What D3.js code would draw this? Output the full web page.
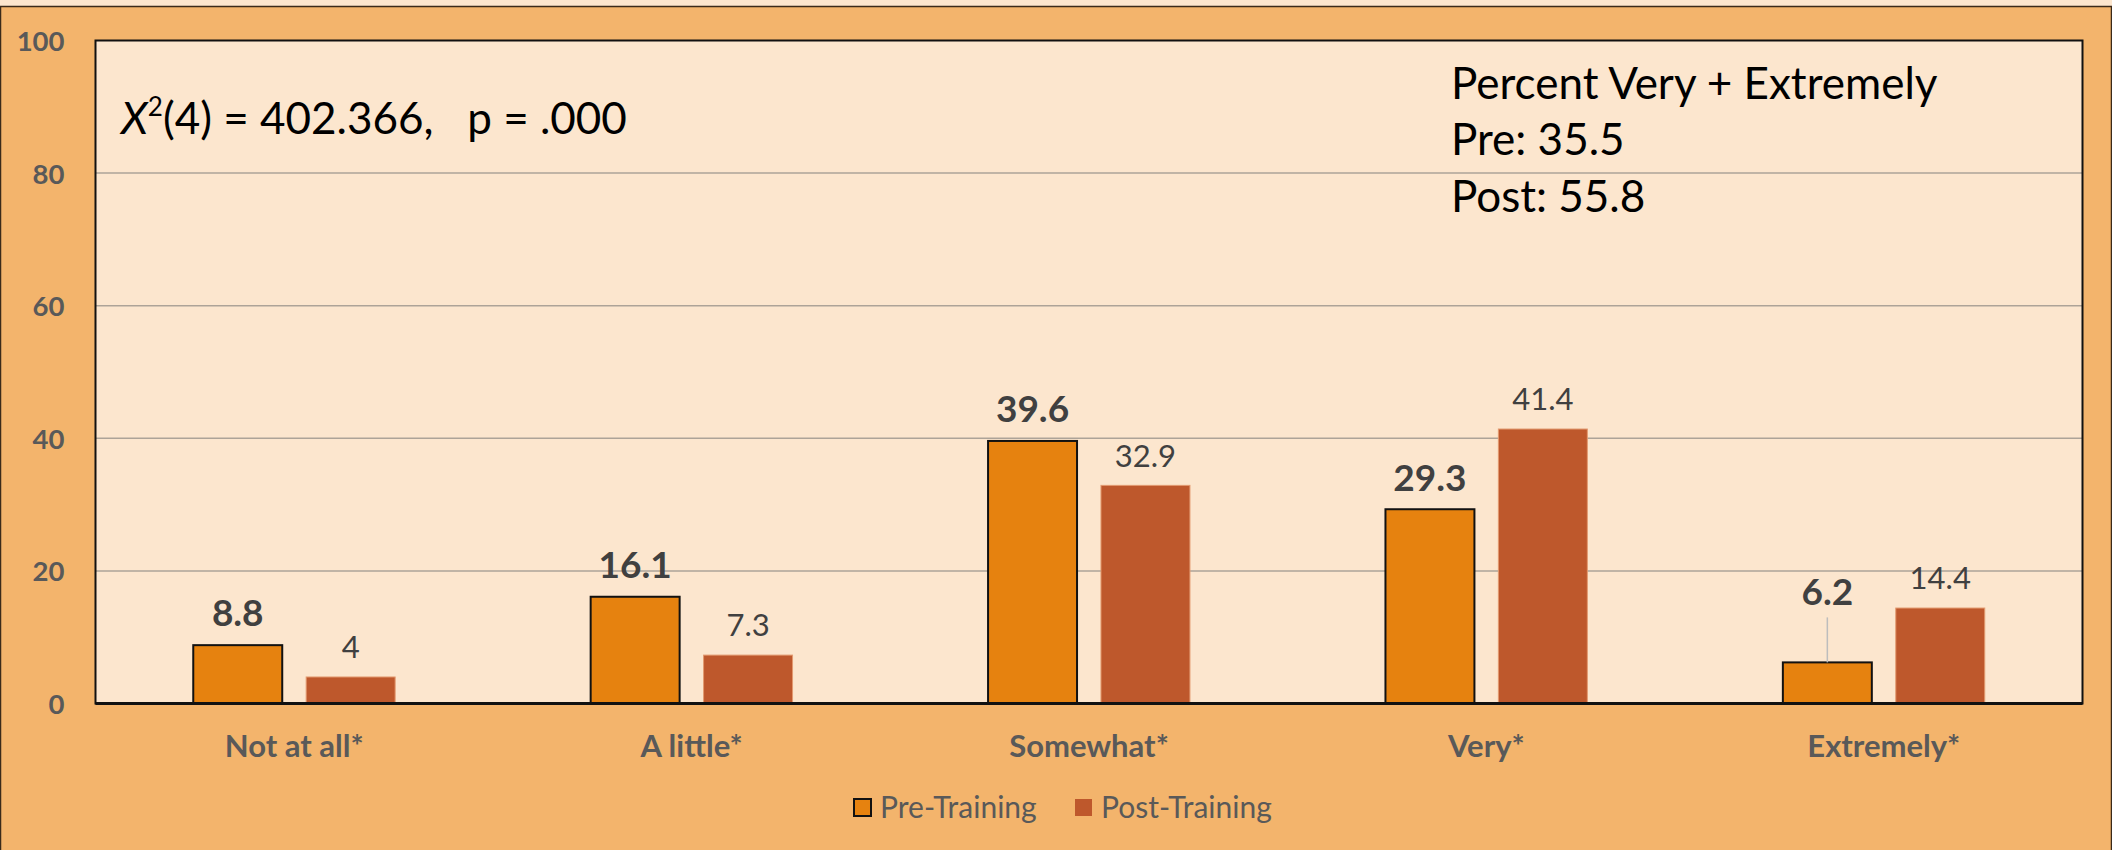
<!DOCTYPE html>
<html>
<head>
<meta charset="utf-8">
<script src="https://cdn.jsdelivr.net/npm/d3@7/dist/d3.min.js"></script>
<style>
  html, body { margin: 0; padding: 0; background: #FCE6CE; }
  svg { display: block; }
  text { font-family: Lato, "Open Sans", sans-serif; }
</style>
</head>
<body>
<svg id="chart" width="2112" height="850"></svg>
<script>
// ---- data ----
const categories = ["Not at all*", "A little*", "Somewhat*", "Very*", "Extremely*"];
const seriesNames = ["Pre-Training", "Post-Training"];
const preValues = [8.8, 16.1, 39.6, 29.3, 6.2];
const postValues = [4, 7.3, 32.9, 41.4, 14.4];
const yTicks = [0, 20, 40, 60, 80, 100];
const statText = "402.366";
const statP = ".000";
const summaryTitle = "Percent Very + Extremely";
const summaryPre = "35.5";
const summaryPost = "55.8";

// ---- layout ----
const W = 2112, H = 850;
const plot = { left: 95.5, right: 2082.5, top: 40.5, bottom: 703.5 };
const colors = { outer: "#F3B46C", plotBg: "#FCE6CE", pre: "#E6820F", post: "#BE582C",
                 grid: "#ADA398", axisText: "#595959", labelText: "#404040" };

const svg = d3.select("#chart");

// outer chart area
svg.append("rect").attr("x", 0).attr("y", 0).attr("width", W).attr("height", H).attr("fill", colors.plotBg);
svg.append("rect").attr("x", 0.5).attr("y", 6.5).attr("width", W - 1).attr("height", H + 10)
   .attr("fill", colors.outer).attr("stroke", "#3a2a1a").attr("stroke-width", 1.5);

// plot area
svg.append("rect").attr("x", plot.left).attr("y", plot.top)
   .attr("width", plot.right - plot.left).attr("height", plot.bottom - plot.top)
   .attr("fill", colors.plotBg);

const x0 = d3.scaleBand().domain(categories).range([plot.left, plot.right])
   .paddingInner(0.492).paddingOuter(0.246);
const x1 = d3.scaleBand().domain(seriesNames).range([0, x0.bandwidth()]).paddingInner(0.212);
const y = d3.scaleLinear().domain([0, 100]).range([plot.bottom, plot.top]);

// gridlines
svg.append("g").selectAll("line").data(yTicks.filter(t => t > 0 && t < 100)).join("line")
   .attr("x1", plot.left).attr("x2", plot.right)
   .attr("y1", d => y(d)).attr("y2", d => y(d))
   .attr("stroke", colors.grid).attr("stroke-width", 1.5);

// y axis labels
const yAxis = svg.append("g").attr("transform", `translate(${plot.left - 31},0)`)
   .call(d3.axisLeft(y).tickValues(yTicks).tickSize(0).tickPadding(0).tickFormat(d3.format("d")));
yAxis.select(".domain").remove();
yAxis.selectAll("text").attr("fill", colors.axisText).attr("font-size", 27.5)
   .attr("font-weight", "bold").attr("font-family", "Lato, sans-serif").attr("dy", "0.36em");

// bars
const seriesData = [preValues, postValues];
const groups = svg.append("g");
seriesData.forEach((vals, si) => {
  groups.append("g").selectAll("rect").data(vals).join("rect")
    .attr("x", (d, i) => x0(categories[i]) + x1(seriesNames[si]))
    .attr("y", d => y(d))
    .attr("width", x1.bandwidth())
    .attr("height", d => y(0) - y(d))
    .attr("fill", si === 0 ? colors.pre : colors.post)
    .attr("stroke", si === 0 ? "#111" : "#E39A70")
    .attr("stroke-width", si === 0 ? 2 : 1);
});

// plot border
svg.append("rect").attr("x", plot.left).attr("y", plot.top)
   .attr("width", plot.right - plot.left).attr("height", plot.bottom - plot.top)
   .attr("fill", "none").attr("stroke", "#111").attr("stroke-width", 2);
svg.append("line").attr("x1", plot.left).attr("x2", plot.right)
   .attr("y1", y(0)).attr("y2", y(0)).attr("stroke", "#111").attr("stroke-width", 3);

// data labels
const draggedExtra = { series: 0, index: 4, extra: 39 };
seriesData.forEach((vals, si) => {
  const g = svg.append("g");
  vals.forEach((d, i) => {
    const cx = x0(categories[i]) + x1(seriesNames[si]) + x1.bandwidth() / 2;
    let cy = y(d) - (si === 0 ? 32 : 30);
    if (si === draggedExtra.series && i === draggedExtra.index) {
      cy -= draggedExtra.extra;
      g.append("line").attr("x1", cx).attr("x2", cx)
        .attr("y1", cy + 26).attr("y2", y(d))
        .attr("stroke", "#BDBDBD").attr("stroke-width", 1.5);
    }
    g.append("text").attr("x", cx).attr("y", cy).attr("dy", "0.36em")
      .attr("text-anchor", "middle")
      .attr("font-size", si === 0 ? 37 : 31)
      .attr("font-weight", si === 0 ? "bold" : "normal")
      .attr("fill", colors.labelText)
      .text(d3.format("")(d));
  });
});

// x axis labels
const xAxis = svg.append("g").attr("transform", `translate(0,${plot.bottom})`)
   .call(d3.axisBottom(x0).tickSize(0).tickPadding(0));
xAxis.select(".domain").remove();
xAxis.selectAll("text").attr("y", 42).attr("dy", "0.36em")
   .attr("fill", colors.axisText).attr("font-size", 31).attr("font-weight", "bold")
   .attr("font-family", "Lato, sans-serif");

// chi-square annotation
const stat = svg.append("text").attr("x", 121).attr("y", 118).attr("dy", "0.36em")
   .attr("font-size", 44).attr("fill", "#000");
stat.append("tspan").attr("font-style", "italic").text("X");
stat.append("tspan").attr("font-size", 26).attr("dy", "-0.7em").text("2");
stat.append("tspan").attr("dy", "0.41em").text("(4) = " + statText + ",\u00a0\u00a0\u00a0p = " + statP);

// summary annotation
const sum = svg.append("g").attr("font-size", 44).attr("fill", "#000");
[summaryTitle, "Pre: " + summaryPre, "Post: " + summaryPost].forEach((t, i) => {
  sum.append("text").attr("x", 1451).attr("y", 83 + i * 56.5).attr("dy", "0.36em").text(t);
});

// legend
const legend = svg.append("g");
const legendItems = [
  { name: seriesNames[0], sx: 854, tx: 880, fill: colors.pre, stroke: "#111", sw: 2 },
  { name: seriesNames[1], sx: 1075, tx: 1101, fill: colors.post, stroke: "none", sw: 0 }
];
legendItems.forEach(it => {
  legend.append("rect").attr("x", it.sx).attr("y", 799).attr("width", 17).attr("height", 17)
    .attr("fill", it.fill).attr("stroke", it.stroke).attr("stroke-width", it.sw);
  legend.append("text").attr("x", it.tx).attr("y", 807.5).attr("dy", "0.36em")
    .attr("font-size", 30).attr("fill", colors.axisText).text(it.name);
});
</script>
</body>
</html>
